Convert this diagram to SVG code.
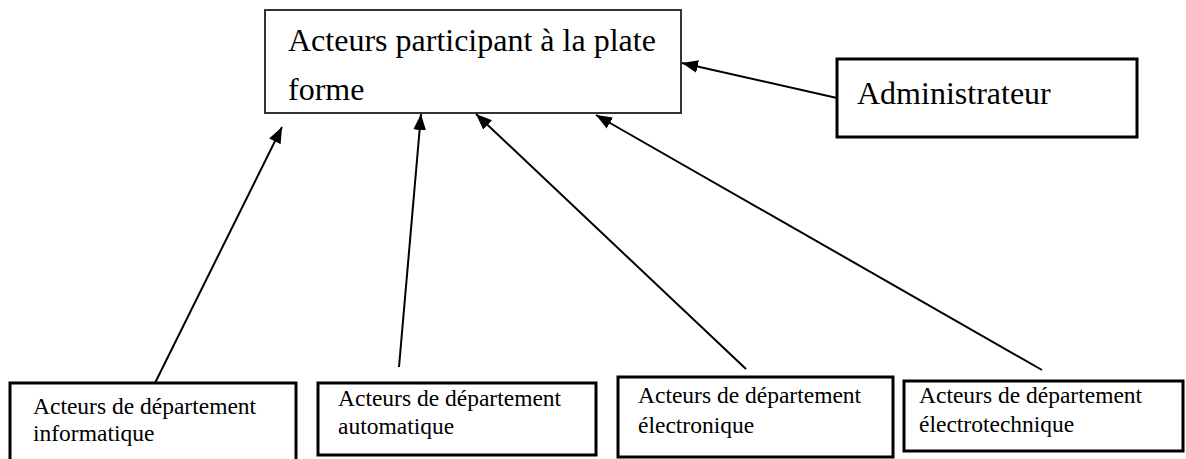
<svg xmlns="http://www.w3.org/2000/svg" width="1186" height="459" viewBox="0 0 1186 459">
  <style>
    .box { fill: #ffffff; stroke: #000000; stroke-width: 3; }
    .main { fill: #ffffff; stroke: #333333; stroke-width: 2; }
    .big { font-family: "Liberation Serif", "Times New Roman", serif; font-size: 32px; fill: #000000; }
    .small { font-family: "Liberation Serif", "Times New Roman", serif; font-size: 23.5px; fill: #000000; }
    .link { stroke: #000000; stroke-width: 2; fill: none; marker-end: url(#head); }
  </style>
  <defs>
    <!-- filled triangular arrowhead shared by all connectors -->
    <marker id="head" viewBox="0 0 10 10" refX="10" refY="5" markerWidth="8" markerHeight="8" markerUnits="strokeWidth" orient="auto">
      <path d="M0,1 L10,5 L0,9 Z" fill="#000000"/>
    </marker>
  </defs>
  <rect width="1186" height="459" fill="#ffffff"/>

  <g id="plateforme">
    <rect class="main" x="265" y="10" width="416" height="103"/>
    <text class="big" x="288" y="51">Acteurs participant à la plate</text>
    <text class="big" x="288" y="100">forme</text>
  </g>

  <g id="administrateur">
    <rect class="box" x="837" y="59" width="300" height="78"/>
    <text class="big" x="857" y="104">Administrateur</text>
  </g>

  <g id="informatique">
    <rect class="box" x="10" y="383" width="286" height="90"/>
    <text class="small" x="33" y="414">Acteurs de département</text>
    <text class="small" x="33" y="441">informatique</text>
  </g>

  <g id="automatique">
    <rect class="box" x="318" y="383" width="278" height="72"/>
    <text class="small" x="338" y="406">Acteurs de département</text>
    <text class="small" x="338" y="434">automatique</text>
  </g>

  <g id="electronique">
    <rect class="box" x="618" y="377" width="275" height="80"/>
    <text class="small" x="638" y="403">Acteurs de département</text>
    <text class="small" x="638" y="433">électronique</text>
  </g>

  <g id="electrotechnique">
    <rect class="box" x="904" y="381" width="279" height="70"/>
    <text class="small" x="919" y="403">Acteurs de département</text>
    <text class="small" x="919" y="432">électrotechnique</text>
  </g>

  <g id="connectors">
    <line class="link" x1="155" y1="383" x2="282" y2="127"/>
    <line class="link" x1="399" y1="367" x2="421" y2="114"/>
    <line class="link" x1="746" y1="369" x2="476" y2="114"/>
    <line class="link" x1="1042" y1="370" x2="596" y2="115"/>
    <line class="link" x1="837" y1="98" x2="682" y2="63"/>
  </g>
</svg>
